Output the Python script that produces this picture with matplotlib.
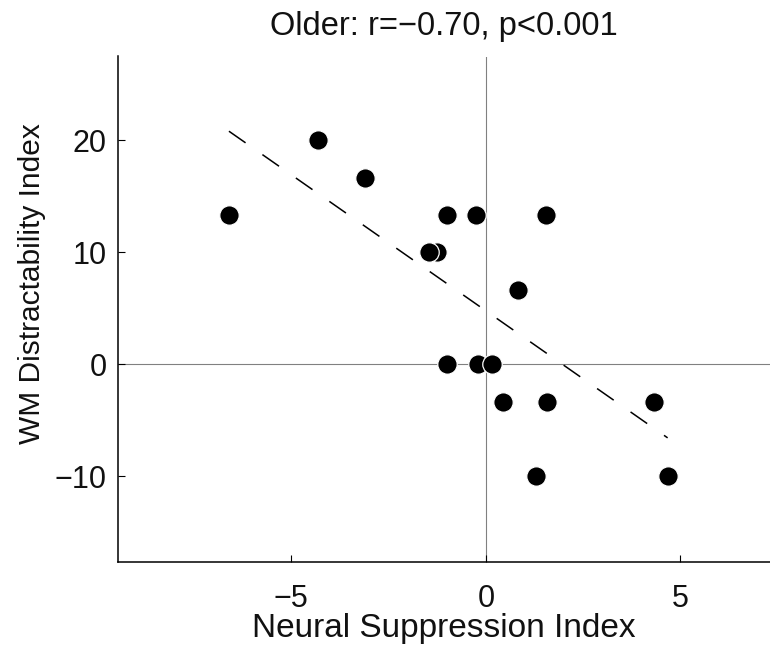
import matplotlib
matplotlib.use('Agg')
import matplotlib.pyplot as plt
import numpy as np

plt.rcParams['font.family'] = ['Liberation Sans', 'DejaVu Sans']
plt.rcParams['lines.scale_dashes'] = False

# Data (drawing order matters for overlaps)
suppression = [-6.6, -4.3, -3.1, -1.0, -0.25, 1.55, -1.25, -1.47, 0.83,
               -1.0, -0.2, 0.17, 0.45, 1.57, 4.32, 1.3, 4.67]
distractability = [13.33, 20.0, 16.67, 13.33, 13.33, 13.33, 10.0, 10.0, 6.67,
                   0.0, 0.0, 0.0, -3.33, -3.33, -3.33, -10.0, -10.0]
fit_slope = -2.43
fit_intercept = 4.79
title_text = "Older: r=\u22120.70, p<0.001"
xlabel_text = "Neural Suppression Index"
ylabel_text = "WM Distractability Index"
xticks = [-5, 0, 5]
yticks = [-10, 0, 10, 20]

W, H = 770, 652
fig = plt.figure(figsize=(W / 100, H / 100), dpi=100)
ax_left, ax_right, ax_top, ax_bottom = 118, 770, 56.5, 561.5
ax = fig.add_axes([ax_left / W, (H - ax_bottom) / H,
                   (ax_right - ax_left) / W, (ax_bottom - ax_top) / H])
ax.set_xlim(-9.45, 7.3)
ax.set_ylim(-17.6, 27.5)

ax.axhline(0, color='#808080', lw=0.8, zorder=1)
ax.axvline(0, color='#808080', lw=0.8, zorder=1)

xs = np.array(suppression)
ys = np.array(distractability)
xf = np.array([xs.min(), xs.max()])
ax.plot(xf, fit_slope * xf + fit_intercept, color='black', lw=1.1,
        dashes=(14.6, 14.8), zorder=2)
ax.scatter(xs, ys, s=196, c='black', edgecolors='white', linewidths=0.9,
           zorder=3)

for side in ('top', 'right'):
    ax.spines[side].set_visible(False)
for side in ('left', 'bottom'):
    ax.spines[side].set_linewidth(1.1)
    ax.spines[side].set_color('black')

ax.set_xticks(xticks)
ax.set_yticks(yticks)
ax.tick_params(direction='in', length=5, width=0.8, labelsize=22,
               labelcolor='#111111')
ax.tick_params(axis='x', pad=16)
ax.tick_params(axis='y', pad=8)

ax.set_xlabel(xlabel_text, fontsize=24, color='#111111')
ax.xaxis.set_label_coords(0.5, -0.102)
ax.set_ylabel(ylabel_text, fontsize=21.5, color='#111111')
ax.yaxis.set_label_coords(-0.111, 0.55)
ax.set_title(title_text, fontsize=23.5, pad=15.5, color='#111111')

fig.savefig('out.png', dpi=100)
